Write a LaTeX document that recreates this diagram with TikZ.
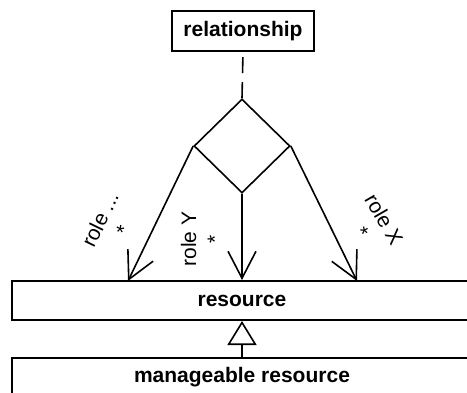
\documentclass[tikz,border=0pt]{standalone}
\usepackage{fontspec}
\setmainfont{Liberation Sans}
\usetikzlibrary{shapes.geometric,arrows.meta}
\begin{document}
\begin{tikzpicture}[x=0.5pt,y=0.5pt,
  box/.style={draw=black, line width=1pt, fill=white, inner sep=0pt, font=\fontsize{10.5}{12}\selectfont\bfseries},
  rolelbl/.style={align=center, inner sep=0pt, font=\fontsize{10.5}{13}\selectfont},
  conn/.style={line width=0.8pt, -{Straight Barb[length=13.5pt,width=14pt]}}]
\useasboundingbox (0,0) rectangle (467,392);
\clip (0,0) rectangle (467,392);
\node [box, minimum width=71pt, minimum height=20pt] (rel) at (243,361) {relationship};
\node [diamond, draw=black, line width=0.8pt, minimum width=48pt, minimum height=47pt, inner sep=0pt] (dia) at (242,246) {};
\node [box, minimum width=230pt, minimum height=19.5pt] (res) at (242,91.5) {resource};
\node [box, minimum width=230pt, minimum height=19.5pt] (mres) at (242,14.5) {manageable resource};
\coordinate (endA) at (128,111);
\coordinate (endX) at (357,111);
\draw [line width=0.8pt, dash pattern=on 8pt off 4.5pt] (dia.north) -- (rel.south);
\draw [conn] (dia.west) -- (endA);
\draw [conn] (dia.south) -- (res.north);
\draw [conn] (dia.east) -- (endX);
\draw [line width=0.8pt, -{Triangle[open, length=12pt, width=14.5pt]}] (mres.north) -- (res.south);
\node [rolelbl, rotate=64] (lblA) at (111.5,167) {role ...\\*};
\node [rolelbl, rotate=90] (lblY) at (201.6,153) {role Y\\*};
\node [rolelbl, rotate=-60] (lblX) at (373,166) {role X\\*};
\end{tikzpicture}
\end{document}
